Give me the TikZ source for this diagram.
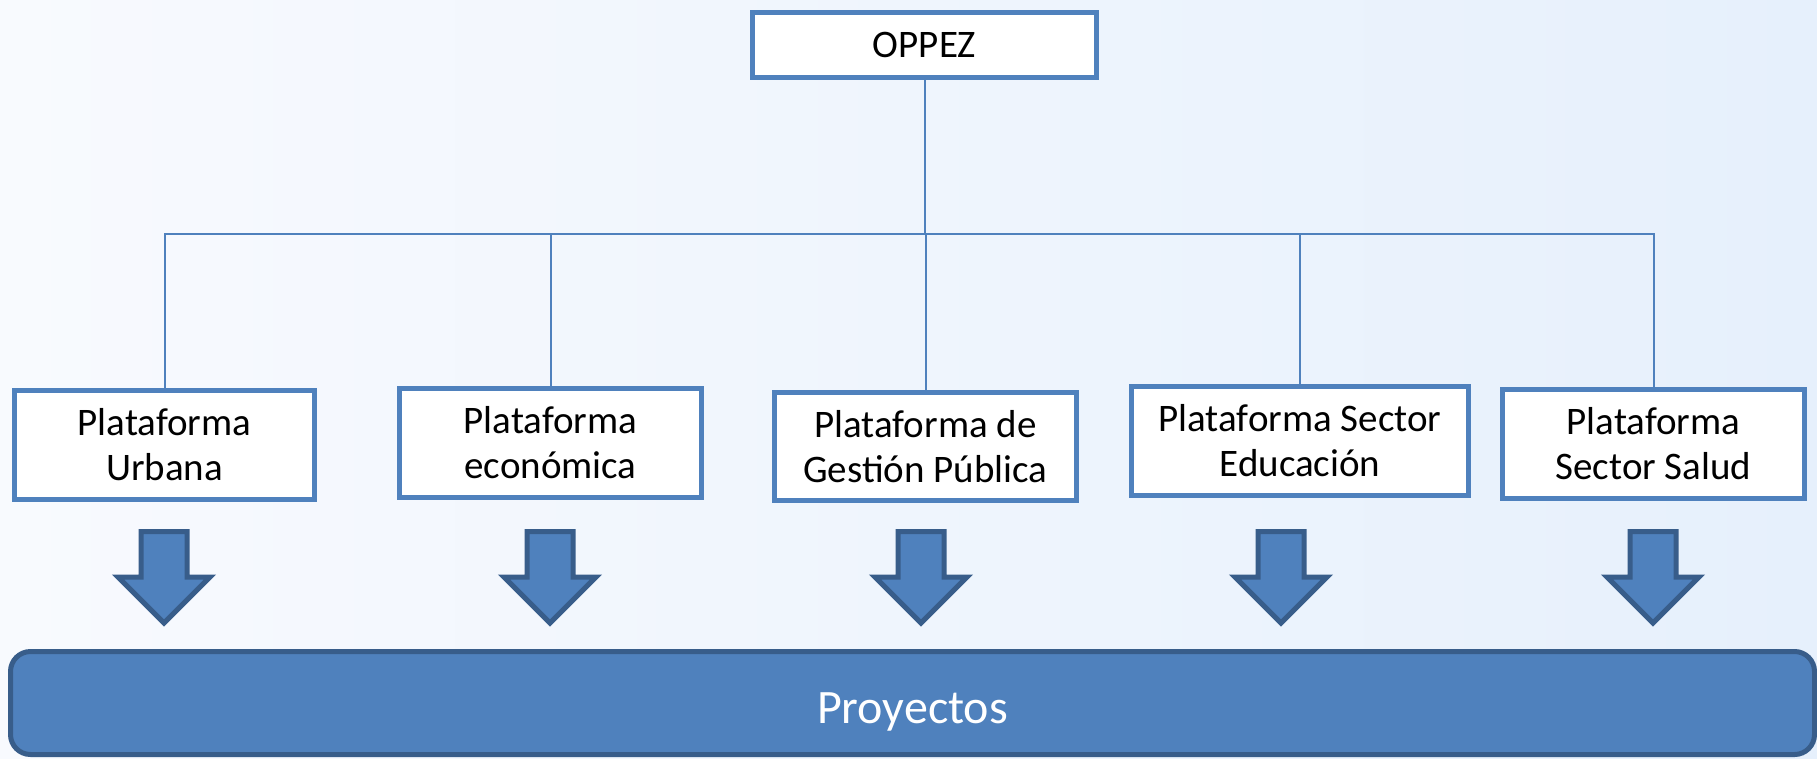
\documentclass[tikz,border=0pt]{standalone}
\usepackage{fontspec}
\setmainfont{Carlito}
\definecolor{boxblue}{HTML}{4F81BD}
\definecolor{darkblue}{HTML}{385D8A}
\definecolor{bgl}{HTML}{F8FAFE}
\definecolor{bgr}{HTML}{E6F0FC}
\tikzset{
  platbox/.style={draw=boxblue, line width=5pt, fill=white, align=center, inner sep=0pt,
    font=\fontsize{39}{45}\selectfont},
  conn/.style={draw=boxblue, line width=2pt},
  blockarrow/.pic={\filldraw[fill=boxblue, draw=darkblue, line width=5pt, miter limit=10]
    (-23,531.5) -- (23,531.5) -- (23,577) -- (46,577) -- (0,623) -- (-46,577) -- (-23,577) -- cycle;},
}
\begin{document}
\begin{tikzpicture}[x=1pt,y=-1pt]
\useasboundingbox (0,0) rectangle (1817,758);
\shade[left color=bgl, right color=bgr] (0,0) rectangle (1817,758);

\node[platbox, minimum width=344pt, minimum height=65pt] (top) at (924.5,45) {OPPEZ};
\node[platbox, minimum width=300pt, minimum height=109pt] (b1) at (164.5,445) {Plataforma\\Urbana};
\node[platbox, minimum width=302pt, minimum height=109pt] (b2) at (550.5,443) {Plataforma\\económica};
\node[platbox, minimum width=302pt, minimum height=108pt] (b3) at (925.5,446.5) {Plataforma de\\Gestión Pública};
\node[platbox, minimum width=337pt, minimum height=109pt] (b4) at (1300,441) {Plataforma Sector\\Educación};
\node[platbox, minimum width=302pt, minimum height=109pt] (b5) at (1653.5,444) {Plataforma\\Sector Salud};

\coordinate (bus) at (0,233.5);
\draw[conn] (top.south) -- (top.south |- bus);
\draw[conn] (b1.north) -- (b1.north |- bus) -- (b5.north |- bus) -- (b5.north);
\draw[conn] (b2.north) -- (b2.north |- bus);
\draw[conn] (b3.north) -- (b3.north |- bus);
\draw[conn] (b4.north) -- (b4.north |- bus);

\coordinate (a1) at (164,0);
\coordinate (a2) at (550,0);
\coordinate (a3) at (921,0);
\coordinate (a4) at (1281,0);
\coordinate (a5) at (1653,0);
\pic at (a1) {blockarrow};
\pic at (a2) {blockarrow};
\pic at (a3) {blockarrow};
\pic at (a4) {blockarrow};
\pic at (a5) {blockarrow};

\node[draw=darkblue, fill=boxblue, line width=5pt, rounded corners=20pt, inner sep=0pt,
  minimum width=1804pt, minimum height=103pt, text=white, text height=40pt, text depth=0pt,
  font=\fontsize{48}{56}\selectfont] (proy) at (912.5,703) {Proyectos};
\end{tikzpicture}
\end{document}
